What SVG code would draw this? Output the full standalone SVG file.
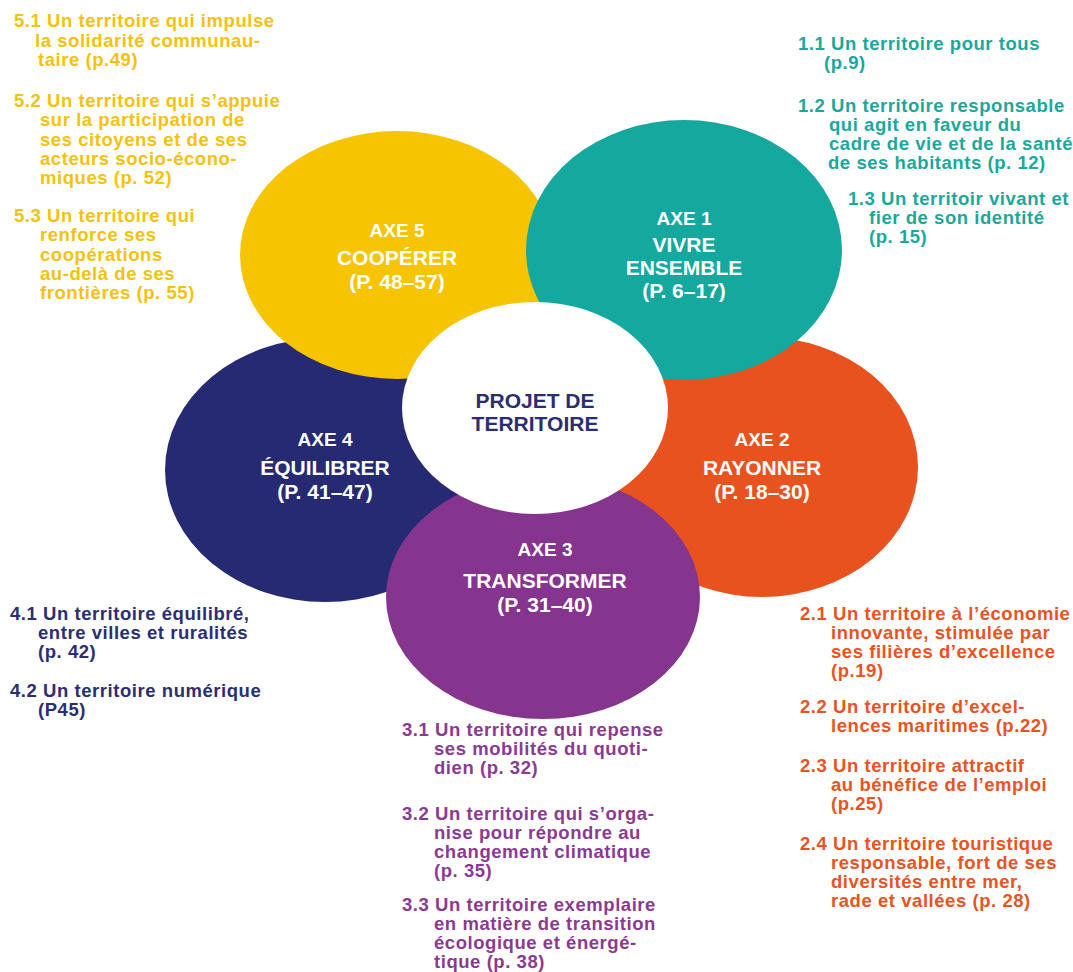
<svg xmlns="http://www.w3.org/2000/svg" width="1073" height="972" viewBox="0 0 1073 972">
<style>
.t{font-family:"Liberation Sans",Arial,sans-serif;font-weight:bold;font-size:18.5px;letter-spacing:0.55px}
.lab{font-family:"Liberation Sans",Arial,sans-serif;font-weight:bold;font-size:21px;fill:#ffffff;text-anchor:middle}
.ax{font-size:19px}
.ctr{font-family:"Liberation Sans",Arial,sans-serif;font-weight:bold;font-size:21px;fill:#2b2e6e;text-anchor:middle}
.y{fill:#f4c20d}.te{fill:#1ba89c}.n{fill:#2b2e72}.o{fill:#e9531f}.p{fill:#8b3a94}
</style>
<rect width="1073" height="972" fill="#ffffff"/>
<g id="axe4">
<ellipse cx="325" cy="470" rx="160" ry="132" fill="#262a73"/>
<text class="lab ax" x="325" y="446">AXE 4</text>
<text class="lab" x="325" y="475">ÉQUILIBRER</text>
<text class="lab" x="325" y="499">(P. 41–47)</text>
</g>
<g id="axe2">
<ellipse cx="762" cy="467" rx="156" ry="130" fill="#e8521e"/>
<text class="lab ax" x="762" y="446">AXE 2</text>
<text class="lab" x="762" y="475">RAYONNER</text>
<text class="lab" x="762" y="499">(P. 18–30)</text>
</g>
<g id="axe5">
<ellipse cx="397" cy="255" rx="157" ry="124" fill="#f6c400"/>
<text class="lab ax" x="397" y="237">AXE 5</text>
<text class="lab" x="397" y="265">COOPÉRER</text>
<text class="lab" x="397" y="289">(P. 48–57)</text>
</g>
<g id="axe1">
<ellipse cx="684" cy="250" rx="158" ry="130" fill="#14a89e"/>
<text class="lab ax" x="684" y="225">AXE 1</text>
<text class="lab" x="684" y="252">VIVRE</text>
<text class="lab" x="684" y="275">ENSEMBLE</text>
<text class="lab" x="684" y="298">(P. 6–17)</text>
</g>
<g id="axe3">
<ellipse cx="543" cy="597" rx="157" ry="122" fill="#86358f"/>
<text class="lab ax" x="545" y="556">AXE 3</text>
<text class="lab" x="545" y="588">TRANSFORMER</text>
<text class="lab" x="545" y="612">(P. 31–40)</text>
</g>
<g id="centre">
<ellipse cx="535" cy="408" rx="133" ry="106" fill="#ffffff"/>
<text class="ctr" x="535" y="408">PROJET DE</text>
<text class="ctr" x="535" y="431">TERRITOIRE</text>
</g>
<g id="list5" class="t y">
<text x="14" y="27">5.1 Un territoire qui impulse</text>
<text x="35" y="47">la solidarité communau-</text>
<text x="38" y="66">taire (p.49)</text>
<text x="14" y="107">5.2 Un territoire qui s’appuie</text>
<text x="40" y="126">sur la participation de</text>
<text x="40" y="146">ses citoyens et de ses</text>
<text x="40" y="165">acteurs socio-écono-</text>
<text x="40" y="184">miques (p. 52)</text>
<text x="14" y="222">5.3 Un territoire qui</text>
<text x="40" y="241">renforce ses</text>
<text x="40" y="261">coopérations</text>
<text x="40" y="280">au-delà de ses</text>
<text x="40" y="299">frontières (p. 55)</text>
</g>
<g id="list1" class="t te">
<text x="798" y="50">1.1 Un territoire pour tous</text>
<text x="824" y="69">(p.9)</text>
<text x="798" y="112">1.2 Un territoire responsable</text>
<text x="829" y="131">qui agit en faveur du</text>
<text x="829" y="150">cadre de vie et de la santé</text>
<text x="828" y="169">de ses habitants (p. 12)</text>
<text x="848" y="205">1.3 Un territoir vivant et</text>
<text x="869" y="224">fier de son identité</text>
<text x="869" y="243">(p. 15)</text>
</g>
<g id="list4" class="t n">
<text x="10" y="620">4.1 Un territoire équilibré,</text>
<text x="38" y="639">entre villes et ruralités</text>
<text x="38" y="658">(p. 42)</text>
<text x="10" y="697">4.2 Un territoire numérique</text>
<text x="38" y="716">(P45)</text>
</g>
<g id="list2" class="t o">
<text x="800" y="620">2.1 Un territoire à l’économie</text>
<text x="831" y="639">innovante, stimulée par</text>
<text x="831" y="658">ses filières d’excellence</text>
<text x="831" y="677">(p.19)</text>
<text x="800" y="713">2.2 Un territoire d’excel-</text>
<text x="831" y="732">lences maritimes (p.22)</text>
<text x="800" y="772">2.3 Un territoire attractif</text>
<text x="831" y="791">au bénéfice de l’emploi</text>
<text x="831" y="810">(p.25)</text>
<text x="800" y="850">2.4 Un territoire touristique</text>
<text x="831" y="869">responsable, fort de ses</text>
<text x="831" y="888">diversités entre mer,</text>
<text x="831" y="907">rade et vallées (p. 28)</text>
</g>
<g id="list3" class="t p">
<text x="402" y="736">3.1 Un territoire qui repense</text>
<text x="434" y="755">ses mobilités du quoti-</text>
<text x="434" y="774">dien (p. 32)</text>
<text x="402" y="820">3.2 Un territoire qui s’orga-</text>
<text x="434" y="839">nise pour répondre au</text>
<text x="434" y="858">changement climatique</text>
<text x="434" y="877">(p. 35)</text>
<text x="402" y="911">3.3 Un territoire exemplaire</text>
<text x="434" y="930">en matière de transition</text>
<text x="434" y="949">écologique et énergé-</text>
<text x="434" y="968">tique (p. 38)</text>
</g>
</svg>
